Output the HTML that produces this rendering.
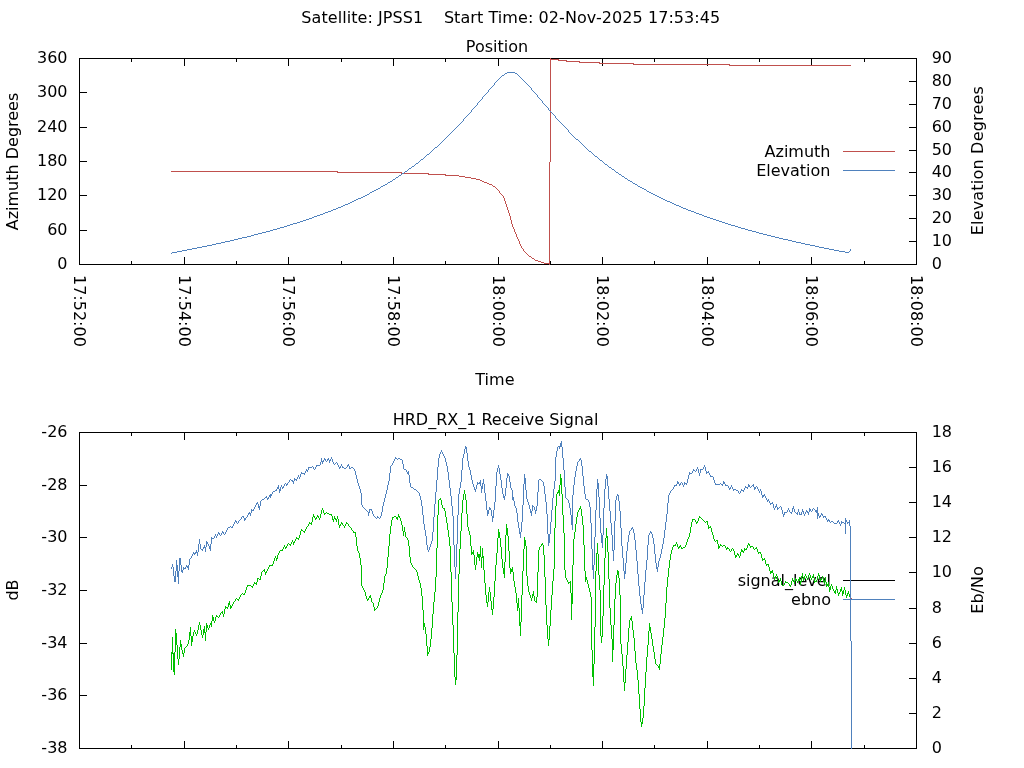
<!DOCTYPE html>
<html><head><meta charset="utf-8"><title>Satellite pass plot</title>
<style>html,body{margin:0;padding:0;background:#fff;width:1024px;height:768px;overflow:hidden}svg{display:block}</style>
</head><body>
<svg width="1024" height="768" viewBox="0 0 1024 768">
<rect width="1024" height="768" fill="#fff"/>
<g font-family="DejaVu Sans, Liberation Sans, sans-serif" font-size="16" fill="#000" stroke="none">
<text x="67.5" y="63" text-anchor="end">360</text>
<text x="67.5" y="97" text-anchor="end">300</text>
<text x="67.5" y="132" text-anchor="end">240</text>
<text x="67.5" y="166" text-anchor="end">180</text>
<text x="67.5" y="200" text-anchor="end">120</text>
<text x="67.5" y="235" text-anchor="end">60</text>
<text x="67.5" y="269" text-anchor="end">0</text>
<text x="931.7" y="63" text-anchor="start">90</text>
<text x="931.7" y="86" text-anchor="start">80</text>
<text x="931.7" y="109" text-anchor="start">70</text>
<text x="931.7" y="132" text-anchor="start">60</text>
<text x="931.7" y="155" text-anchor="start">50</text>
<text x="931.7" y="177" text-anchor="start">40</text>
<text x="931.7" y="200" text-anchor="start">30</text>
<text x="931.7" y="223" text-anchor="start">20</text>
<text x="931.7" y="246" text-anchor="start">10</text>
<text x="931.7" y="269" text-anchor="start">0</text>
<text x="74.0" y="275" text-anchor="start" transform="rotate(90 74.0 275)">17:52:00</text>
<text x="179.0" y="275" text-anchor="start" transform="rotate(90 179.0 275)">17:54:00</text>
<text x="283.0" y="275" text-anchor="start" transform="rotate(90 283.0 275)">17:56:00</text>
<text x="388.0" y="275" text-anchor="start" transform="rotate(90 388.0 275)">17:58:00</text>
<text x="493.0" y="275" text-anchor="start" transform="rotate(90 493.0 275)">18:00:00</text>
<text x="597.0" y="275" text-anchor="start" transform="rotate(90 597.0 275)">18:02:00</text>
<text x="702.0" y="275" text-anchor="start" transform="rotate(90 702.0 275)">18:04:00</text>
<text x="806.0" y="275" text-anchor="start" transform="rotate(90 806.0 275)">18:06:00</text>
<text x="911.0" y="275" text-anchor="start" transform="rotate(90 911.0 275)">18:08:00</text>
<text x="18" y="161.5" text-anchor="middle" transform="rotate(-90 18 161.5)">Azimuth Degrees</text>
<text x="982.9" y="160.6" text-anchor="middle" transform="rotate(-90 982.9 160.6)" letter-spacing="0.2">Elevation Degrees</text>
<text x="494.9" y="385" text-anchor="middle">Time</text>
<text x="497" y="51.5" text-anchor="middle">Position</text>
<text x="510.8" y="23.2" text-anchor="middle" xml:space="preserve" letter-spacing="0.07">Satellite: JPSS1    Start Time: 02-Nov-2025 17:53:45</text>
<text x="830.5" y="156.5" text-anchor="end">Azimuth</text>
<text x="830.5" y="175.5" text-anchor="end">Elevation</text>
<text x="67.5" y="437" text-anchor="end">-26</text>
<text x="67.5" y="490" text-anchor="end">-28</text>
<text x="67.5" y="542" text-anchor="end">-30</text>
<text x="67.5" y="595" text-anchor="end">-32</text>
<text x="67.5" y="648" text-anchor="end">-34</text>
<text x="67.5" y="700" text-anchor="end">-36</text>
<text x="67.5" y="753" text-anchor="end">-38</text>
<text x="931.7" y="437" text-anchor="start">18</text>
<text x="931.7" y="472" text-anchor="start">16</text>
<text x="931.7" y="507" text-anchor="start">14</text>
<text x="931.7" y="542" text-anchor="start">12</text>
<text x="931.7" y="577" text-anchor="start">10</text>
<text x="931.7" y="613" text-anchor="start">8</text>
<text x="931.7" y="648" text-anchor="start">6</text>
<text x="931.7" y="683" text-anchor="start">4</text>
<text x="931.7" y="718" text-anchor="start">2</text>
<text x="931.7" y="753" text-anchor="start">0</text>
<text x="18" y="590" text-anchor="middle" transform="rotate(-90 18 590)">dB</text>
<text x="982.9" y="590" text-anchor="middle" transform="rotate(-90 982.9 590)">Eb/No</text>
<text x="495.5" y="425" text-anchor="middle">HRD_RX_1 Receive Signal</text>
<text x="831" y="585.5" text-anchor="end">signal_level</text>
<text x="831" y="604.5" text-anchor="end">ebno</text>
</g>
<g shape-rendering="crispEdges" stroke-width="1">
<rect x="79.5" y="58.5" width="837" height="206" fill="none" stroke="#000"/>
<line x1="131.5" y1="58" x2="131.5" y2="62" stroke="#000"/>
<line x1="131.5" y1="265" x2="131.5" y2="261" stroke="#000"/>
<line x1="184.5" y1="58" x2="184.5" y2="66" stroke="#000"/>
<line x1="184.5" y1="265" x2="184.5" y2="257" stroke="#000"/>
<line x1="236.5" y1="58" x2="236.5" y2="62" stroke="#000"/>
<line x1="236.5" y1="265" x2="236.5" y2="261" stroke="#000"/>
<line x1="288.5" y1="58" x2="288.5" y2="66" stroke="#000"/>
<line x1="288.5" y1="265" x2="288.5" y2="257" stroke="#000"/>
<line x1="341.5" y1="58" x2="341.5" y2="62" stroke="#000"/>
<line x1="341.5" y1="265" x2="341.5" y2="261" stroke="#000"/>
<line x1="393.5" y1="58" x2="393.5" y2="66" stroke="#000"/>
<line x1="393.5" y1="265" x2="393.5" y2="257" stroke="#000"/>
<line x1="445.5" y1="58" x2="445.5" y2="62" stroke="#000"/>
<line x1="445.5" y1="265" x2="445.5" y2="261" stroke="#000"/>
<line x1="498.5" y1="58" x2="498.5" y2="66" stroke="#000"/>
<line x1="498.5" y1="265" x2="498.5" y2="257" stroke="#000"/>
<line x1="550.5" y1="58" x2="550.5" y2="62" stroke="#000"/>
<line x1="550.5" y1="265" x2="550.5" y2="261" stroke="#000"/>
<line x1="602.5" y1="58" x2="602.5" y2="66" stroke="#000"/>
<line x1="602.5" y1="265" x2="602.5" y2="257" stroke="#000"/>
<line x1="654.5" y1="58" x2="654.5" y2="62" stroke="#000"/>
<line x1="654.5" y1="265" x2="654.5" y2="261" stroke="#000"/>
<line x1="707.5" y1="58" x2="707.5" y2="66" stroke="#000"/>
<line x1="707.5" y1="265" x2="707.5" y2="257" stroke="#000"/>
<line x1="759.5" y1="58" x2="759.5" y2="62" stroke="#000"/>
<line x1="759.5" y1="265" x2="759.5" y2="261" stroke="#000"/>
<line x1="811.5" y1="58" x2="811.5" y2="66" stroke="#000"/>
<line x1="811.5" y1="265" x2="811.5" y2="257" stroke="#000"/>
<line x1="864.5" y1="58" x2="864.5" y2="62" stroke="#000"/>
<line x1="864.5" y1="265" x2="864.5" y2="261" stroke="#000"/>
<line x1="79" y1="92.5" x2="87" y2="92.5" stroke="#000"/>
<line x1="79" y1="127.5" x2="87" y2="127.5" stroke="#000"/>
<line x1="79" y1="161.5" x2="87" y2="161.5" stroke="#000"/>
<line x1="79" y1="195.5" x2="87" y2="195.5" stroke="#000"/>
<line x1="79" y1="230.5" x2="87" y2="230.5" stroke="#000"/>
<line x1="917" y1="81.5" x2="909" y2="81.5" stroke="#000"/>
<line x1="917" y1="104.5" x2="909" y2="104.5" stroke="#000"/>
<line x1="917" y1="127.5" x2="909" y2="127.5" stroke="#000"/>
<line x1="917" y1="150.5" x2="909" y2="150.5" stroke="#000"/>
<line x1="917" y1="172.5" x2="909" y2="172.5" stroke="#000"/>
<line x1="917" y1="195.5" x2="909" y2="195.5" stroke="#000"/>
<line x1="917" y1="218.5" x2="909" y2="218.5" stroke="#000"/>
<line x1="917" y1="241.5" x2="909" y2="241.5" stroke="#000"/>
<rect x="79.5" y="432.5" width="837" height="316" fill="none" stroke="#000"/>
<line x1="131.5" y1="432" x2="131.5" y2="436" stroke="#000"/>
<line x1="131.5" y1="749" x2="131.5" y2="745" stroke="#000"/>
<line x1="184.5" y1="432" x2="184.5" y2="440" stroke="#000"/>
<line x1="184.5" y1="749" x2="184.5" y2="741" stroke="#000"/>
<line x1="236.5" y1="432" x2="236.5" y2="436" stroke="#000"/>
<line x1="236.5" y1="749" x2="236.5" y2="745" stroke="#000"/>
<line x1="288.5" y1="432" x2="288.5" y2="440" stroke="#000"/>
<line x1="288.5" y1="749" x2="288.5" y2="741" stroke="#000"/>
<line x1="341.5" y1="432" x2="341.5" y2="436" stroke="#000"/>
<line x1="341.5" y1="749" x2="341.5" y2="745" stroke="#000"/>
<line x1="393.5" y1="432" x2="393.5" y2="440" stroke="#000"/>
<line x1="393.5" y1="749" x2="393.5" y2="741" stroke="#000"/>
<line x1="445.5" y1="432" x2="445.5" y2="436" stroke="#000"/>
<line x1="445.5" y1="749" x2="445.5" y2="745" stroke="#000"/>
<line x1="498.5" y1="432" x2="498.5" y2="440" stroke="#000"/>
<line x1="498.5" y1="749" x2="498.5" y2="741" stroke="#000"/>
<line x1="550.5" y1="432" x2="550.5" y2="436" stroke="#000"/>
<line x1="550.5" y1="749" x2="550.5" y2="745" stroke="#000"/>
<line x1="602.5" y1="432" x2="602.5" y2="440" stroke="#000"/>
<line x1="602.5" y1="749" x2="602.5" y2="741" stroke="#000"/>
<line x1="654.5" y1="432" x2="654.5" y2="436" stroke="#000"/>
<line x1="654.5" y1="749" x2="654.5" y2="745" stroke="#000"/>
<line x1="707.5" y1="432" x2="707.5" y2="440" stroke="#000"/>
<line x1="707.5" y1="749" x2="707.5" y2="741" stroke="#000"/>
<line x1="759.5" y1="432" x2="759.5" y2="436" stroke="#000"/>
<line x1="759.5" y1="749" x2="759.5" y2="745" stroke="#000"/>
<line x1="811.5" y1="432" x2="811.5" y2="440" stroke="#000"/>
<line x1="811.5" y1="749" x2="811.5" y2="741" stroke="#000"/>
<line x1="864.5" y1="432" x2="864.5" y2="436" stroke="#000"/>
<line x1="864.5" y1="749" x2="864.5" y2="745" stroke="#000"/>
<line x1="79" y1="485.5" x2="87" y2="485.5" stroke="#000"/>
<line x1="79" y1="537.5" x2="87" y2="537.5" stroke="#000"/>
<line x1="79" y1="590.5" x2="87" y2="590.5" stroke="#000"/>
<line x1="79" y1="643.5" x2="87" y2="643.5" stroke="#000"/>
<line x1="79" y1="695.5" x2="87" y2="695.5" stroke="#000"/>
<line x1="917" y1="467.5" x2="909" y2="467.5" stroke="#000"/>
<line x1="917" y1="502.5" x2="909" y2="502.5" stroke="#000"/>
<line x1="917" y1="537.5" x2="909" y2="537.5" stroke="#000"/>
<line x1="917" y1="572.5" x2="909" y2="572.5" stroke="#000"/>
<line x1="917" y1="608.5" x2="909" y2="608.5" stroke="#000"/>
<line x1="917" y1="643.5" x2="909" y2="643.5" stroke="#000"/>
<line x1="917" y1="678.5" x2="909" y2="678.5" stroke="#000"/>
<line x1="917" y1="713.5" x2="909" y2="713.5" stroke="#000"/>
<line x1="843" y1="151.5" x2="895" y2="151.5" stroke="#C0504D"/><line x1="843" y1="170.5" x2="895" y2="170.5" stroke="#4F81BD"/><line x1="843" y1="580.5" x2="895" y2="580.5" stroke="#000"/><line x1="843" y1="599.5" x2="895" y2="599.5" stroke="#4F81BD"/>
</g>
<g fill="none" stroke-width="1" shape-rendering="crispEdges">
<path d="M729 65.5h122M171 171.5h167M633 64.5h97M337 172.5h65M401 173.5h28M445 175.5h14M541 262.5h3M428 174.5h18M487 183.5h2M599 63.5h35M465 177.5h6M579 62.5h21M558 60.5h9M471 178.5h5M544 263.5h6M550 59.5h9M566 61.5h14M484 182.5h3M459 176.5h6M476 179.5h4M493 186.5h2M535 260.5h3M538 261.5h3M489 184.5h3M482 181.5h2M529 256.5h2M532 258.5h2M480 180.5h2M549.5 162v101M549.5 264v1M550.5 58v1M550.5 60v102M512.5 224v3M521.5 246v2M498.5 190v1M534.5 259v1M513.5 227v2M499.5 191v2M519.5 241v3M506.5 204v3M509.5 213v3M496.5 188v1M511.5 220v4M517.5 237v2M514.5 229v3M510.5 216v4M508.5 210v3M497.5 189v1M505.5 201v3M507.5 207v3M518.5 239v2M520.5 244v2M515.5 232v2M522.5 248v1M503.5 196v2M492.5 185v1M516.5 234v3M504.5 198v3M523.5 249v2M531.5 257v1M524.5 251v1M525.5 252v1M502.5 195v1M527.5 254v1M528.5 255v1M500.5 193v1M501.5 194v1M495.5 187v1M526.5 253v1" stroke="#C0504D"/>
<path d="M609 167.5h2M628 180.5h2M385 184.5h2M635 184.5h2M254 234.5h4M763 234.5h4M405 171.5h2M320 214.5h3M699 214.5h3M622 176.5h2M343 205.5h2M676 205.5h3M187 249.5h5M829 249.5h5M234 239.5h4M783 239.5h5M270 230.5h3M748 230.5h4M390 181.5h2M630 181.5h2M317 215.5h3M702 215.5h2M576 139.5h2M182 250.5h5M834 250.5h5M202 246.5h5M815 246.5h4M625 178.5h2M328 211.5h3M691 211.5h3M363 196.5h2M657 196.5h2M300 221.5h3M719 221.5h3M277 228.5h3M741 228.5h4M172 252.5h5M845 252.5h4M505 73.5h2M515 73.5h2M258 233.5h4M759 233.5h4M323 213.5h2M696 213.5h3M358 198.5h3M661 198.5h2M177 251.5h5M839 251.5h6M221 242.5h4M796 242.5h5M502 75.5h2M306 219.5h3M713 219.5h3M284 226.5h3M735 226.5h3M273 229.5h4M745 229.5h3M381 186.5h2M638 186.5h2M266 231.5h4M752 231.5h4M247 236.5h4M771 236.5h4M378 188.5h2M642 188.5h2M312 217.5h2M707 217.5h3M290 224.5h3M728 224.5h3M207 245.5h5M810 245.5h5M192 248.5h5M824 248.5h5M212 244.5h4M805 244.5h5M350 202.5h2M670 202.5h2M242 237.5h5M775 237.5h4M507 72.5h8M605 164.5h2M251 235.5h3M767 235.5h4M216 243.5h5M801 243.5h4M297 222.5h3M722 222.5h3M230 240.5h4M788 240.5h4M197 247.5h5M819 247.5h5M399 175.5h2M348 203.5h2M672 203.5h2M435 147.5h2M303 220.5h3M716 220.5h3M331 210.5h2M688 210.5h3M354 200.5h2M665 200.5h2M225 241.5h5M792 241.5h4M280 227.5h4M738 227.5h3M345 204.5h3M674 204.5h2M262 232.5h4M756 232.5h3M651 193.5h2M352 201.5h2M667 201.5h3M314 216.5h3M704 216.5h3M336 208.5h2M683 208.5h3M616 172.5h2M367 194.5h2M653 194.5h2M374 190.5h2M361 197.5h2M659 197.5h2M365 195.5h2M655 195.5h2M372 191.5h2M647 191.5h2M325 212.5h3M694 212.5h2M341 206.5h2M679 206.5h2M356 199.5h2M663 199.5h2M600 160.5h2M370 192.5h2M649 192.5h2M338 207.5h3M681 207.5h2M383 185.5h2M293 223.5h4M725 223.5h3M396 177.5h2M388 182.5h2M309 218.5h3M710 218.5h3M612 169.5h2M287 225.5h3M731 225.5h4M238 238.5h4M779 238.5h4M640 187.5h2M633 183.5h2M333 209.5h3M686 209.5h2M376 189.5h2M644 189.5h2M427 154.5h2M412 166.5h2M409 168.5h2M402 173.5h2M421 159.5h2M416 163.5h2M619 174.5h2M595 156.5h2M589 151.5h2M393 179.5h2M563.5 125v1M524.5 81v1M476.5 105v1M478.5 102v1M598.5 158v1M559.5 121v1M491.5 87v1M407.5 170v1M398.5 176v1M171.5 253v1M624.5 177v1M446.5 137v1M555.5 116v2M454.5 129v1M474.5 107v1M535.5 93v1M475.5 106v1M549.5 110v1M575.5 138v1M618.5 173v1M444.5 139v1M531.5 88v2M452.5 131v1M525.5 82v1M470.5 112v1M471.5 110v2M473.5 108v1M588.5 150v1M565.5 127v1M571.5 134v1M544.5 104v1M599.5 159v1M550.5 111v1M488.5 90v2M526.5 83v1M469.5 113v1M556.5 118v1M572.5 135v1M566.5 128v1M527.5 84v1M484.5 95v1M522.5 79v1M485.5 94v1M562.5 124v1M607.5 165v1M551.5 112v1M442.5 141v1M380.5 187v1M482.5 97v2M574.5 137v1M483.5 96v1M440.5 143v1M479.5 101v1M553.5 114v1M597.5 157v1M542.5 101v2M455.5 128v1M568.5 130v2M608.5 166v1M462.5 121v1M477.5 103v2M411.5 167v1M529.5 86v1M548.5 108v2M564.5 126v1M453.5 130v1M615.5 171v1M461.5 122v1M560.5 122v1M415.5 164v1M558.5 120v1M554.5 115v1M489.5 89v1M499.5 78v1M530.5 87v1M472.5 109v1M849.5 251v1M592.5 153v1M850.5 249v2M443.5 140v1M545.5 105v1M450.5 133v1M494.5 83v2M441.5 142v1M567.5 129v1M448.5 135v1M546.5 106v1M449.5 134v1M467.5 115v1M540.5 99v1M468.5 114v1M632.5 182v1M463.5 119v2M465.5 117v1M466.5 116v1M434.5 148v1M594.5 155v1M614.5 170v1M582.5 144v1M501.5 76v1M547.5 107v1M432.5 150v1M621.5 175v1M578.5 140v1M433.5 149v1M438.5 145v1M543.5 103v1M591.5 152v1M537.5 95v2M500.5 77v1M579.5 141v1M431.5 151v1M420.5 160v1M426.5 155v1M498.5 79v1M538.5 97v1M401.5 174v1M504.5 74v1M532.5 90v1M451.5 132v1M419.5 161v1M424.5 157v1M459.5 124v1M481.5 99v1M414.5 165v1M637.5 185v1M603.5 162v1M580.5 142v1M457.5 126v1M423.5 158v1M523.5 80v1M569.5 132v1M593.5 154v1M539.5 98v1M586.5 148v1M404.5 172v1M604.5 163v1M519.5 76v1M646.5 190v1M611.5 168v1M492.5 86v1M541.5 100v1M439.5 144v1M534.5 92v1M447.5 136v1M570.5 133v1M587.5 149v1M493.5 85v1M490.5 88v1M437.5 146v1M536.5 94v1M520.5 77v1M445.5 138v1M583.5 145v1M627.5 179v1M464.5 118v1M486.5 93v1M487.5 92v1M521.5 78v1M425.5 156v1M460.5 123v1M561.5 123v1M602.5 161v1M517.5 74v1M557.5 119v1M392.5 180v1M458.5 125v1M584.5 146v1M429.5 153v1M430.5 152v1M418.5 162v1M533.5 91v1M496.5 81v1M369.5 193v1M497.5 80v1M573.5 136v1M456.5 127v1M552.5 113v1M585.5 147v1M387.5 183v1M518.5 75v1M408.5 169v1M581.5 143v1M528.5 85v1M480.5 100v1M495.5 82v1M395.5 178v1" stroke="#4F81BD"/>
<path d="M306 470.5h2M693 470.5h2M571 522.5h2M841 522.5h3M847 522.5h3M324 459.5h2M327 459.5h2M400 459.5h2M579 459.5h2M377 517.5h2M492 517.5h2M571 517.5h2M489 508.5h2M777 508.5h2M792 508.5h2M228 527.5h2M231 527.5h2M597 485.5h2M674 485.5h3M725 485.5h3M748 485.5h2M752 485.5h2M277 488.5h2M481 488.5h2M597 488.5h2M729 488.5h2M754 488.5h2M262 499.5h2M512 499.5h2M586 499.5h2M176 570.5h2M181 570.5h2M294 479.5h3M524 479.5h2M539 479.5h2M301 473.5h4M407 473.5h2M689 473.5h3M267 498.5h2M512 498.5h2M571 515.5h2M817 515.5h2M195 552.5h3M179 561.5h2M201 549.5h2M174 576.5h2M177 576.5h2M481 486.5h2M597 486.5h2M748 486.5h2M571 524.5h2M279 489.5h2M414 489.5h2M474 489.5h2M733 489.5h3M344 468.5h2M349 468.5h2M524 478.5h2M606 478.5h2M548 541.5h2M601 541.5h2M258 506.5h2M532 506.5h2M775 506.5h2M479 482.5h2M524 482.5h2M677 482.5h2M723 482.5h2M270 494.5h2M783 514.5h2M799 514.5h3M817 514.5h2M821 514.5h2M571 523.5h2M834 523.5h3M844 523.5h2M258 507.5h2M286 484.5h2M597 484.5h2M679 484.5h2M715 484.5h5M721 484.5h2M275 490.5h2M279 490.5h2M736 490.5h2M741 490.5h3M179 564.5h2M291 480.5h2M524 480.5h2M548 534.5h2M176 568.5h2M183 568.5h3M592 568.5h2M656 568.5h2M211 538.5h3M548 538.5h2M601 538.5h2M203 547.5h3M209 547.5h2M218 533.5h2M519 533.5h2M269 495.5h3M617 495.5h2M762 495.5h3M477 483.5h4M482 483.5h2M524 483.5h2M597 483.5h2M677 483.5h2M684 483.5h3M723 483.5h2M209 548.5h2M176 565.5h2M592 565.5h2M316 465.5h4M347 465.5h2M368 512.5h2M487 512.5h2M530 512.5h2M784 512.5h3M790 512.5h2M807 512.5h2M816 512.5h2M548 536.5h2M601 536.5h2M395 458.5h2M398 458.5h2M256 503.5h2M770 503.5h3M222 532.5h2M519 532.5h2M650 532.5h2M631 528.5h2M487 511.5h2M530 511.5h2M802 511.5h2M806 511.5h2M815 511.5h3M273 491.5h2M404 469.5h2M700 469.5h3M277 487.5h2M282 487.5h2M411 487.5h2M481 487.5h2M597 487.5h2M745 487.5h3M754 487.5h2M369 509.5h3M489 509.5h2M809 509.5h2M548 537.5h2M601 537.5h2M206 543.5h2M407 472.5h2M706 472.5h3M179 559.5h2M177 571.5h2M181 571.5h2M624 571.5h2M176 566.5h2M186 566.5h3M592 566.5h2M560 443.5h2M606 477.5h2M308 467.5h4M339 467.5h2M342 467.5h2M351 467.5h2M571 520.5h2M827 520.5h3M845 520.5h2M548 535.5h2M601 535.5h2M176 567.5h2M187 567.5h2M592 567.5h2M656 567.5h2M177 573.5h2M624 573.5h2M269 496.5h2M503 496.5h2M762 496.5h2M244 518.5h2M571 518.5h2M235 521.5h2M571 521.5h2M831 521.5h2M837 521.5h2M845 521.5h2M251 510.5h3M487 510.5h2M535 510.5h2M809 510.5h2M815 510.5h3M179 558.5h2M641 609.5h2M177 574.5h2M507 474.5h2M174 581.5h2M321 461.5h3M209 546.5h2M179 562.5h2M176 569.5h2M592 569.5h2M244 519.5h2M571 519.5h2M193 553.5h3M292 481.5h2M524 481.5h2M174 580.5h2M548 540.5h2M601 540.5h2M329 460.5h2M507 475.5h2M242 516.5h2M492 516.5h2M571 516.5h2M819 516.5h2M823 516.5h3M179 563.5h2M174 577.5h2M767 500.5h2M560 444.5h2M248 513.5h3M487 513.5h2M796 513.5h2M817 513.5h2M179 560.5h2M177 575.5h2M612 550.5h2M606 476.5h2M710 476.5h3M177 572.5h2M624 572.5h2M265 497.5h2M503 497.5h2M512 497.5h2M558 446.5h4M548 539.5h2M601 539.5h2M560 445.5h2M465 447.5h2M206 542.5h2M548 542.5h2M601 542.5h2M641 608.5h2M174 578.5h2M174 579.5h2M465 448.5h2M499.5 468v6M446.5 462v4M600.5 518v15M397.5 459v1M551.5 510v12M611.5 523v12M590.5 507v16M603.5 508v27M510.5 482v6M556.5 451v6M592.5 549v16M173.5 567v9M461.5 470v12M576.5 466v5M608.5 486v13M373.5 514v2M626.5 551v12M637.5 561v13M456.5 544v23M851.5 641v108M609.5 499v12M506.5 478v10M547.5 514v20M197.5 553v3M452.5 506v10M598.5 489v8M563.5 458v12M496.5 472v14M622.5 546v12M454.5 545v22M697.5 467v2M850.5 526v115M653.5 538v6M449.5 480v8M604.5 489v19M764.5 494v1M596.5 489v21M615.5 500v21M753.5 484v1M753.5 486v1M544.5 486v8M625.5 563v8M483.5 479v4M389.5 473v8M502.5 488v6M629.5 531v4M421.5 500v6M358.5 483v3M188.5 565v1M188.5 568v2M422.5 506v9M495.5 486v16M820.5 515v1M517.5 513v9M664.5 530v8M321.5 458v3M361.5 493v12M250.5 514v2M605.5 479v10M591.5 523v26M597.5 479v4M656.5 563v4M643.5 595v13M494.5 502v8M619.5 501v10M652.5 534v4M582.5 466v10M486.5 501v9M432.5 532v9M438.5 458v9M424.5 524v6M215.5 534v2M550.5 522v12M313.5 467v2M354.5 469v2M460.5 482v6M614.5 521v29M648.5 535v10M595.5 510v27M347.5 466v1M505.5 488v8M410.5 483v4M468.5 461v6M696.5 469v2M211.5 537v1M211.5 539v5M331.5 457v2M383.5 502v4M770.5 504v1M613.5 551v10M585.5 494v5M594.5 537v28M441.5 450v2M555.5 457v24M655.5 554v9M647.5 545v15M176.5 560v5M658.5 561v6M179.5 565v6M669.5 493v2M639.5 586v10M599.5 497v21M546.5 502v12M297.5 477v2M509.5 476v6M200.5 544v5M621.5 528v18M667.5 503v11M498.5 465v3M554.5 481v8M565.5 487v11M646.5 560v10M175.5 571v5M523.5 484v21M241.5 517v2M315.5 467v2M804.5 514v2M493.5 510v6M368.5 513v3M636.5 550v11M797.5 512v1M797.5 514v1M467.5 453v8M392.5 463v2M569.5 503v5M280.5 487v2M459.5 488v6M457.5 515v29M531.5 513v3M437.5 467v13M845.5 518v2M845.5 522v1M845.5 524v10M642.5 610v4M448.5 472v8M593.5 570v9M672.5 489v1M524.5 474v4M610.5 511v12M748.5 484v1M638.5 574v12M830.5 522v1M299.5 477v2M453.5 516v29M436.5 480v12M382.5 506v6M548.5 543v3M440.5 452v2M635.5 540v10M573.5 485v10M668.5 495v8M183.5 567v1M183.5 569v1M458.5 494v21M249.5 512v1M572.5 495v20M572.5 525v5M198.5 544v8M481.5 489v4M473.5 484v3M607.5 479v7M485.5 493v8M296.5 480v1M451.5 496v10M497.5 468v4M624.5 574v5M402.5 460v4M657.5 569v3M447.5 466v6M423.5 515v9M435.5 492v12M562.5 447v11M728.5 486v2M720.5 483v1M511.5 488v2M409.5 475v8M314.5 469v1M489.5 507v1M501.5 480v8M512.5 490v7M553.5 489v9M463.5 454v4M620.5 511v17M391.5 465v1M538.5 480v12M341.5 464v2M781.5 507v3M849.5 520v2M849.5 523v3M841.5 521v1M841.5 523v1M632.5 527v1M606.5 474v2M783.5 515v2M426.5 536v9M654.5 544v10M552.5 498v12M450.5 488v8M623.5 558v13M470.5 470v5M462.5 458v12M522.5 505v17M580.5 458v1M545.5 494v8M537.5 492v14M484.5 484v9M507.5 473v1M507.5 476v2M381.5 512v4M248.5 514v1M811.5 511v1M521.5 522v10M627.5 542v9M466.5 449v4M287.5 483v1M355.5 471v4M583.5 476v10M385.5 494v4M666.5 514v8M693.5 469v1M612.5 535v15M792.5 509v3M514.5 501v5M419.5 493v3M660.5 554v4M840.5 524v2M645.5 570v12M340.5 466v1M189.5 559v6M279.5 491v2M434.5 504v13M665.5 522v8M564.5 470v17M455.5 567v12M388.5 481v4M525.5 484v6M472.5 480v4M644.5 582v13M817.5 507v3M817.5 516v3M526.5 490v9M433.5 517v15M802.5 509v2M640.5 596v8M532.5 505v1M532.5 507v4M794.5 509v3M286.5 485v1M760.5 489v2M570.5 508v7M278.5 485v2M259.5 508v2M782.5 510v4M574.5 477v8M741.5 489v1M181.5 565v5M733.5 490v1M475.5 490v2M219.5 534v1M465.5 446v1M536.5 506v4M528.5 502v3M346.5 467v1M492.5 518v4M425.5 530v6M700.5 470v3M418.5 492v1M838.5 520v1M471.5 475v5M323.5 460v1M744.5 488v2M445.5 458v4M395.5 457v1M320.5 462v3M172.5 564v3M386.5 490v4M519.5 528v4M406.5 470v2M464.5 449v5M788.5 508v2M714.5 480v3M698.5 469v4M349.5 466v2M789.5 510v2M413.5 488v1M584.5 486v8M338.5 465v2M504.5 498v2M210.5 544v2M210.5 549v2M322.5 462v2M360.5 489v4M226.5 530v2M618.5 496v5M559.5 447v2M474.5 487v2M244.5 520v1M264.5 498v1M799.5 512v2M662.5 544v5M527.5 499v3M284.5 484v2M390.5 466v7M758.5 489v2M333.5 462v2M233.5 524v2M480.5 480v2M480.5 484v2M751.5 486v1M443.5 454v2M581.5 460v6M731.5 485v2M225.5 532v2M408.5 471v1M408.5 474v1M705.5 467v4M682.5 483v2M178.5 577v7M336.5 462v1M776.5 504v2M337.5 463v2M503.5 494v2M232.5 526v1M806.5 510v1M294.5 478v1M294.5 480v1M617.5 494v1M738.5 491v2M677.5 481v1M216.5 536v2M193.5 552v1M673.5 487v2M301.5 472v1M332.5 459v3M208.5 544v2M589.5 502v5M270.5 497v1M805.5 512v2M616.5 496v4M681.5 482v1M704.5 465v2M192.5 554v2M839.5 522v2M254.5 507v2M300.5 474v3M688.5 475v4M222.5 531v1M663.5 538v6M194.5 554v1M261.5 500v1M703.5 467v2M308.5 468v2M191.5 556v2M342.5 466v1M633.5 529v4M699.5 473v3M206.5 541v1M206.5 544v3M230.5 526v1M253.5 509v1M427.5 545v5M628.5 535v7M387.5 485v5M542.5 481v1M260.5 501v5M356.5 475v4M769.5 501v2M420.5 496v4M330.5 459v1M750.5 487v1M224.5 534v1M444.5 456v2M500.5 474v6M491.5 510v6M240.5 519v1M715.5 483v1M761.5 491v4M765.5 496v2M329.5 461v2M429.5 547v3M439.5 454v4M369.5 510v2M575.5 471v6M520.5 534v4M787.5 510v2M779.5 507v1M251.5 509v1M251.5 511v2M428.5 550v2M371.5 510v1M372.5 511v3M247.5 515v2M196.5 550v2M680.5 483v1M285.5 483v1M281.5 485v2M357.5 479v4M304.5 474v1M659.5 558v3M516.5 508v5M328.5 458v1M578.5 461v1M808.5 513v2M403.5 464v5M679.5 485v1M793.5 506v2M759.5 491v2M334.5 464v1M602.5 543v5M199.5 539v5M518.5 522v6M687.5 479v4M182.5 572v1M202.5 550v1M568.5 500v3M534.5 507v3M683.5 485v2M601.5 533v2M530.5 509v2M791.5 513v1M641.5 604v4M214.5 536v2M777.5 507v1M777.5 509v1M821.5 513v1M515.5 506v2M739.5 493v1M362.5 505v2M239.5 520v1M487.5 514v2M634.5 533v7M661.5 549v5M670.5 491v2M828.5 519v1M298.5 475v2M557.5 447v4M798.5 509v3M393.5 461v2M541.5 480v1M847.5 523v1M630.5 530v1M246.5 517v1M380.5 516v2M223.5 533v1M364.5 508v1M535.5 511v3M258.5 504v2M692.5 471v2M335.5 463v1M588.5 500v2M812.5 509v2M577.5 462v4M651.5 533v1M710.5 475v1M543.5 482v4M238.5 521v2M307.5 471v1M276.5 489v1M814.5 509v1M833.5 522v1M826.5 518v2M482.5 484v2M268.5 497v1M803.5 512v2M732.5 487v2M236.5 522v1M780.5 506v1M772.5 502v1M237.5 523v1M754.5 489v1M205.5 548v4M221.5 533v2M708.5 471v1M529.5 505v4M394.5 459v2M768.5 499v1M324.5 458v1M469.5 467v3M809.5 508v1M809.5 511v1M579.5 460v1M561.5 441v2M376.5 518v1M293.5 482v2M566.5 498v1M220.5 535v1M567.5 499v1M384.5 498v4M513.5 500v1M305.5 471v2M767.5 501v1M339.5 468v1M204.5 545v2M227.5 528v2M442.5 452v2M379.5 518v1M801.5 512v2M289.5 480v2M234.5 522v2M695.5 471v1M431.5 541v3M762.5 497v1M326.5 461v1M740.5 491v2M367.5 511v1M706.5 471v1M706.5 473v1M725.5 484v1M353.5 468v1M676.5 484v1M430.5 544v3M671.5 490v1M837.5 522v1M766.5 498v2M822.5 515v1M272.5 492v2M267.5 499v1M171.5 567v2M217.5 534v2M713.5 477v3M348.5 464v1M631.5 529v1M773.5 504v4M359.5 486v3M829.5 521v1M747.5 488v1M723.5 481v1M243.5 517v1M709.5 473v2M255.5 505v2M813.5 508v1M476.5 485v4M266.5 496v1M730.5 487v1M649.5 533v2M327.5 460v1M775.5 507v1M684.5 482v1M684.5 484v1M288.5 482v1M729.5 489v1M312.5 466v1M774.5 508v2M827.5 521v1M819.5 517v1M363.5 507v1M374.5 516v1M375.5 517v1M416.5 490v1M257.5 502v1M417.5 491v1M784.5 513v1M477.5 482v1M477.5 484v1M377.5 516v1M650.5 531v1M686.5 484v1M795.5 512v1M283.5 486v1M306.5 469v1M689.5 472v1M689.5 474v1M256.5 504v1M325.5 460v1M825.5 517v1M290.5 479v1M365.5 509v1M366.5 510v1M235.5 520v1M282.5 488v1M757.5 487v2M722.5 485v1M745.5 486v1M203.5 548v1M218.5 532v1M316.5 466v1M756.5 486v1M823.5 517v1M674.5 486v1M190.5 558v1M186.5 565v1M743.5 491v1M185.5 567v1" stroke="#4F81BD"/>
<path d="M280 550.5h3M741 550.5h2M592 673.5h2M679 546.5h2M718 546.5h2M750 546.5h3M210 623.5h2M423 623.5h2M519 623.5h2M225 607.5h3M230 607.5h2M517 607.5h2M216 616.5h2M517 605.5h2M173 662.5h2M477 555.5h4M735 555.5h2M503 571.5h2M510 571.5h3M617 571.5h2M770 571.5h3M477 554.5h4M737 554.5h2M558 490.5h2M263 570.5h2M503 570.5h2M510 570.5h3M471 553.5h3M596 553.5h2M478 557.5h2M481 557.5h3M592 675.5h2M203 630.5h2M649 630.5h2M818 575.5h2M212 620.5h2M443 508.5h2M579 508.5h2M203 629.5h2M649 629.5h2M254 583.5h3M503 573.5h2M617 573.5h2M206 627.5h2M649 627.5h2M175 637.5h2M191 637.5h2M503 568.5h2M585 577.5h2M774 577.5h2M803 577.5h2M812 577.5h2M778 580.5h3M792 580.5h2M795 580.5h2M798 580.5h2M265 572.5h2M503 572.5h2M617 572.5h2M770 572.5h3M708 527.5h3M829 589.5h2M836 589.5h2M840 589.5h2M175 633.5h2M189 633.5h2M696 522.5h2M315 518.5h2M334 518.5h2M396 518.5h2M259 579.5h2M585 579.5h2M795 579.5h2M798 579.5h2M820 579.5h2M834 592.5h2M842 592.5h2M247 585.5h4M782 585.5h2M789 585.5h2M826 585.5h3M301 530.5h2M506 530.5h2M175 643.5h2M612 643.5h2M498 537.5h2M606 537.5h2M829 587.5h2M175 635.5h2M189 635.5h2M369 596.5h2M571 596.5h2M175 639.5h2M191 639.5h2M548 639.5h2M612 639.5h2M834 591.5h2M842 591.5h2M617 574.5h2M243 594.5h2M532 594.5h2M571 594.5h2M498 536.5h2M606 536.5h2M173 658.5h2M228 603.5h2M517 603.5h2M571 603.5h2M524 541.5h2M173 659.5h2M339 525.5h2M840 590.5h2M498 535.5h2M486 602.5h2M571 602.5h2M498 534.5h2M506 534.5h2M524 540.5h2M716 540.5h2M293 542.5h2M524 542.5h2M535 601.5h2M571 601.5h2M471 552.5h3M758 552.5h3M532 595.5h2M571 595.5h2M846 595.5h2M524 545.5h2M673 545.5h3M720 545.5h2M723 545.5h2M173 671.5h2M592 671.5h2M681 548.5h2M726 548.5h3M755 548.5h2M374 609.5h2M491 609.5h2M369 597.5h2M571 597.5h2M571 600.5h2M303 531.5h2M403 531.5h2M506 531.5h2M829 588.5h2M571 593.5h2M838 593.5h2M842 593.5h2M847 593.5h2M296 538.5h3M189 632.5h2M203 632.5h3M212 617.5h2M285 547.5h2M678 547.5h2M683 547.5h2M718 547.5h2M221 612.5h2M210 624.5h2M423 624.5h2M519 624.5h2M276 558.5h2M212 619.5h2M630 619.5h2M624 682.5h2M206 626.5h2M423 626.5h2M206 625.5h2M423 625.5h2M519 625.5h2M203 631.5h2M175 638.5h2M191 638.5h2M269 565.5h4M503 569.5h2M510 569.5h3M175 636.5h2M191 636.5h2M601 636.5h2M313 516.5h2M317 516.5h2M394 516.5h2M398 516.5h2M175 644.5h2M180 644.5h2M612 644.5h2M568 582.5h3M785 582.5h3M801 576.5h2M812 576.5h2M171 652.5h2M427 652.5h2M175 641.5h2M191 641.5h2M612 641.5h2M353 532.5h3M498 532.5h2M506 532.5h2M180 646.5h2M612 646.5h2M332 519.5h2M335 519.5h2M692 519.5h3M289 544.5h2M524 544.5h2M541 544.5h2M748 544.5h2M251 586.5h2M560 480.5h2M180 645.5h2M612 645.5h2M175 642.5h2M612 642.5h2M612 648.5h2M173 655.5h2M237 599.5h2M367 599.5h2M571 599.5h2M826 584.5h3M571 598.5h2M173 669.5h2M592 669.5h2M173 657.5h2M230 606.5h2M517 606.5h2M741 551.5h3M592 674.5h2M173 664.5h2M592 664.5h2M766 564.5h3M649 628.5h2M173 665.5h2M592 665.5h2M212 618.5h2M630 618.5h2M557 492.5h3M477 556.5h4M482 556.5h2M735 556.5h2M762 559.5h3M778 581.5h2M793 581.5h2M800 581.5h2M814 581.5h3M823 581.5h3M257 578.5h2M585 578.5h2M803 578.5h2M506 529.5h2M506 528.5h2M171 653.5h4M182 653.5h2M427 653.5h2M329 514.5h3M173 660.5h2M173 661.5h2M524 543.5h2M173 668.5h2M592 668.5h2M498 533.5h2M506 533.5h2M228 604.5h2M517 604.5h2M519 622.5h2M744 549.5h3M175 634.5h2M189 634.5h2M324 513.5h2M327 513.5h2M439 499.5h2M173 654.5h2M175 640.5h2M191 640.5h2M612 640.5h2M706 521.5h2M309 523.5h3M341 523.5h2M346 523.5h2M173 663.5h2M612 647.5h2M592 676.5h2M173 670.5h2M592 670.5h2M173 666.5h2M592 666.5h2M658 666.5h2M173 667.5h2M592 667.5h2M658 667.5h2M455 677.5h2M392 517.5h2M396 517.5h2M699 517.5h2M612 649.5h2M558 491.5h2M641 722.5h2M173 656.5h2M560 479.5h2M592 672.5h2M455 679.5h2M455 678.5h2M641 723.5h2M560 481.5h2M560 482.5h2M560 483.5h2M560 484.5h2M560 478.5h2M505.5 535v27M645.5 672v16M497.5 538v15M199.5 622v3M609.5 579v29M474.5 555v10M620.5 595v49M584.5 545v26M622.5 654v12M459.5 549v25M571.5 604v16M436.5 548v29M409.5 546v11M464.5 490v4M543.5 545v10M521.5 595v27M554.5 528v41M386.5 568v6M359.5 553v5M501.5 547v12M457.5 612v43M504.5 562v6M504.5 574v4M578.5 510v2M261.5 572v4M445.5 511v6M538.5 550v22M276.5 559v2M496.5 553v12M562.5 494v21M638.5 680v14M416.5 570v2M435.5 577v15M770.5 573v1M520.5 626v10M453.5 625v28M175.5 629v4M175.5 645v7M450.5 546v26M455.5 680v5M595.5 571v56M419.5 580v3M553.5 569v12M526.5 546v30M644.5 688v18M209.5 625v3M537.5 572v25M402.5 525v6M495.5 565v16M695.5 520v2M799.5 577v2M515.5 587v6M600.5 590v46M572.5 565v28M691.5 522v5M437.5 515v33M564.5 533v37M555.5 506v22M552.5 581v14M458.5 574v38M390.5 526v8M356.5 537v9M494.5 581v16M177.5 645v14M581.5 509v7M545.5 577v28M484.5 570v13M547.5 625v14M467.5 514v13M841.5 587v2M590.5 592v5M634.5 638v13M666.5 587v16M773.5 573v4M490.5 592v9M470.5 535v11M784.5 583v2M522.5 571v24M373.5 603v4M533.5 591v3M607.5 538v14M810.5 575v3M447.5 523v7M829.5 590v2M802.5 573v3M452.5 602v23M639.5 694v15M536.5 597v4M536.5 602v1M583.5 525v20M508.5 536v15M291.5 542v2M486.5 595v7M665.5 603v15M477.5 552v2M713.5 535v4M643.5 706v12M598.5 554v21M516.5 593v10M433.5 602v12M224.5 609v5M380.5 595v3M606.5 528v8M551.5 595v15M603.5 585v31M454.5 653v24M844.5 587v3M440.5 498v1M544.5 555v22M389.5 534v12M642.5 718v4M197.5 630v4M444.5 509v2M422.5 596v14M480.5 546v8M432.5 614v14M605.5 538v20M550.5 610v16M388.5 546v11M608.5 552v27M483.5 558v12M466.5 500v14M493.5 597v12M738.5 555v1M649.5 623v4M677.5 544v3M431.5 628v11M546.5 605v20M604.5 558v27M172.5 637v15M361.5 565v21M204.5 626v3M591.5 597v53M462.5 500v13M594.5 627v37M610.5 608v17M475.5 565v5M629.5 620v8M648.5 631v14M339.5 526v2M619.5 578v17M509.5 551v17M556.5 494v12M549.5 626v13M664.5 618v10M596.5 554v17M461.5 513v18M614.5 599v26M364.5 590v2M196.5 634v2M633.5 630v8M828.5 582v2M828.5 586v1M775.5 576v1M593.5 677v9M599.5 575v15M446.5 517v6M663.5 628v9M602.5 616v20M613.5 625v14M668.5 568v9M585.5 571v6M585.5 580v2M293.5 543v2M800.5 582v3M563.5 515v18M601.5 637v6M667.5 577v10M426.5 634v12M183.5 654v3M612.5 650v12M524.5 537v3M524.5 546v3M647.5 645v12M485.5 583v12M451.5 572v30M456.5 655v22M179.5 647v12M371.5 598v4M781.5 581v4M488.5 592v10M171.5 654v16M460.5 531v18M573.5 539v26M523.5 549v22M374.5 607v2M374.5 610v1M627.5 642v13M646.5 657v15M560.5 474v4M623.5 666v16M482.5 548v8M273.5 561v3M487.5 603v4M676.5 542v2M225.5 606v1M225.5 608v1M423.5 610v13M423.5 627v3M268.5 567v2M559.5 485v5M559.5 493v3M206.5 623v2M206.5 628v4M635.5 651v12M481.5 558v10M387.5 557v11M637.5 670v10M331.5 515v1M762.5 558v1M762.5 560v1M202.5 635v3M194.5 630v2M577.5 512v5M260.5 576v3M512.5 567v2M319.5 518v2M412.5 565v2M413.5 567v1M272.5 564v1M807.5 578v2M391.5 520v6M267.5 569v2M420.5 583v5M334.5 516v2M661.5 645v9M326.5 512v1M345.5 524v2M690.5 527v6M570.5 581v1M570.5 583v10M299.5 535v3M822.5 576v2M780.5 578v2M576.5 517v7M513.5 572v9M294.5 541v1M514.5 581v6M698.5 518v3M686.5 542v3M434.5 592v10M500.5 538v9M227.5 608v1M408.5 540v6M589.5 588v4M421.5 588v8M561.5 485v9M626.5 655v14M636.5 663v7M223.5 614v3M761.5 554v4M502.5 559v9M655.5 659v5M358.5 551v2M746.5 548v1M765.5 560v4M659.5 664v2M659.5 668v2M411.5 563v2M415.5 569v1M597.5 543v10M734.5 551v4M624.5 683v8M476.5 557v8M320.5 514v4M438.5 500v15M615.5 583v16M548.5 640v6M427.5 646v6M427.5 654v2M191.5 642v4M383.5 583v7M662.5 637v8M346.5 522v1M692.5 520v2M588.5 584v4M343.5 525v1M363.5 588v2M845.5 590v5M378.5 602v4M831.5 584v2M178.5 659v6M277.5 555v3M687.5 539v3M292.5 540v2M229.5 601v2M214.5 621v2M288.5 543v1M729.5 549v2M198.5 625v5M539.5 547v3M660.5 654v10M190.5 627v5M527.5 576v10M656.5 664v1M625.5 669v13M189.5 636v4M731.5 549v2M611.5 625v14M811.5 578v2M348.5 524v2M322.5 508v2M352.5 530v1M381.5 593v2M205.5 633v8M792.5 578v2M616.5 575v8M640.5 709v13M240.5 595v2M769.5 567v4M567.5 580v2M429.5 647v5M528.5 586v6M384.5 576v7M232.5 604v2M405.5 532v5M184.5 648v5M283.5 547v2M689.5 533v4M278.5 553v2M519.5 608v14M670.5 554v6M275.5 556v2M492.5 610v5M681.5 547v1M632.5 621v9M565.5 570v8M262.5 571v1M336.5 520v2M582.5 516v9M628.5 628v14M313.5 514v2M400.5 518v3M774.5 578v2M253.5 584v2M809.5 573v2M808.5 575v3M392.5 518v2M188.5 640v4M382.5 590v3M448.5 530v7M338.5 519v6M430.5 639v8M797.5 581v2M654.5 652v7M357.5 546v5M819.5 576v3M410.5 557v6M710.5 526v1M530.5 595v3M592.5 650v14M740.5 552v4M473.5 550v2M473.5 554v1M733.5 549v2M491.5 601v8M725.5 546v2M174.5 652v1M174.5 672v3M717.5 541v3M518.5 598v5M671.5 550v4M748.5 543v1M747.5 545v3M385.5 574v2M398.5 514v2M739.5 556v2M425.5 627v7M337.5 516v3M825.5 577v4M836.5 586v3M365.5 592v4M318.5 517v1M818.5 573v2M529.5 592v3M532.5 596v2M806.5 576v2M652.5 639v7M449.5 537v9M355.5 533v4M621.5 644v10M678.5 548v1M193.5 632v4M669.5 560v8M211.5 621v2M211.5 625v2M479.5 558v3M471.5 546v6M471.5 554v1M200.5 625v5M266.5 571v1M332.5 516v3M195.5 632v2M506.5 524v4M768.5 565v2M417.5 572v4M824.5 582v2M574.5 532v7M618.5 575v3M300.5 531v4M222.5 611v1M222.5 613v1M370.5 595v1M826.5 582v2M826.5 586v1M489.5 587v5M846.5 596v2M744.5 548v1M744.5 550v1M465.5 494v6M657.5 665v1M360.5 558v7M233.5 602v2M714.5 539v2M441.5 500v5M314.5 517v1M399.5 517v1M631.5 616v2M631.5 620v1M580.5 506v2M340.5 524v1M201.5 630v5M333.5 520v2M791.5 581v4M510.5 568v1M510.5 572v2M776.5 574v2M239.5 597v2M397.5 519v1M575.5 524v8M814.5 578v3M814.5 582v1M351.5 528v2M287.5 544v2M541.5 545v1M794.5 582v2M757.5 549v3M219.5 615v2M215.5 617v4M641.5 724v3M274.5 558v3M463.5 494v6M730.5 551v1M203.5 633v2M324.5 514v1M442.5 505v3M312.5 517v5M813.5 574v2M418.5 576v4M308.5 524v2M651.5 633v6M403.5 532v4M180.5 640v4M353.5 531v1M801.5 577v4M849.5 594v3M823.5 578v3M295.5 539v2M838.5 594v2M534.5 596v5M264.5 569v1M264.5 571v1M323.5 510v3M650.5 631v2M803.5 579v2M362.5 586v2M772.5 570v1M469.5 531v4M817.5 576v4M708.5 525v2M708.5 528v1M712.5 532v3M540.5 546v1M741.5 549v1M685.5 545v2M672.5 547v3M756.5 547v1M265.5 573v2M760.5 553v1M321.5 510v4M316.5 517v1M820.5 580v2M707.5 522v3M498.5 529v3M711.5 528v4M187.5 644v2M342.5 524v1M245.5 590v3M182.5 650v3M833.5 589v2M842.5 594v2M284.5 545v2M279.5 551v2M517.5 608v3M252.5 587v1M344.5 526v2M181.5 647v3M795.5 578v1M832.5 586v3M401.5 521v4M290.5 545v1M228.5 605v2M753.5 547v2M557.5 493v1M212.5 615v2M531.5 598v3M726.5 549v1M718.5 544v2M718.5 548v1M587.5 580v4M653.5 646v6M830.5 586v1M688.5 537v2M750.5 547v1M256.5 582v1M256.5 584v1M404.5 527v4M697.5 521v1M247.5 586v1M407.5 538v2M847.5 594v1M367.5 600v1M234.5 601v1M230.5 605v1M230.5 608v1M579.5 509v1M257.5 579v3M254.5 582v1M350.5 527v1M785.5 581v1M777.5 576v4M568.5 583v1M837.5 590v3M366.5 596v3M377.5 606v2M542.5 543v1M848.5 591v2M220.5 613v2M758.5 553v1M208.5 628v2M566.5 578v2M235.5 599v2M705.5 522v1M246.5 587v3M305.5 529v2M468.5 527v4M379.5 598v4M843.5 590v1M680.5 545v1M816.5 580v1M406.5 537v1M732.5 548v1M675.5 544v1M754.5 549v1M617.5 570v1M185.5 647v1M306.5 527v2M317.5 515v1M821.5 578v1M701.5 518v1M805.5 574v2M835.5 590v1M835.5 593v1M703.5 520v1M296.5 537v1M840.5 591v1M727.5 547v1M298.5 539v1M282.5 549v1M737.5 553v1M722.5 546v1M699.5 516v1M186.5 646v1M790.5 586v1M507.5 535v1M715.5 541v1M285.5 548v1M301.5 529v1M269.5 566v1M311.5 522v1M311.5 524v1M778.5 582v1M804.5 576v1M349.5 526v1M341.5 522v1M304.5 532v1M236.5 598v1M702.5 519v1M720.5 544v1M216.5 615v1M704.5 521v1M309.5 522v1M673.5 546v1M218.5 617v1M839.5 592v1M368.5 598v1M307.5 526v1M788.5 583v1M735.5 557v1M743.5 552v1M315.5 519v1M244.5 593v1M372.5 602v1M376.5 608v1M764.5 558v1M242.5 593v1M749.5 545v1M238.5 600v1M766.5 565v1M286.5 546v1M414.5 568v1M696.5 523v1M241.5 594v1M789.5 584v1" stroke="#00C000"/>
</g>
<rect x="851" y="598" width="1" height="1" fill="#C0504D"/>
</svg>
</body></html>
